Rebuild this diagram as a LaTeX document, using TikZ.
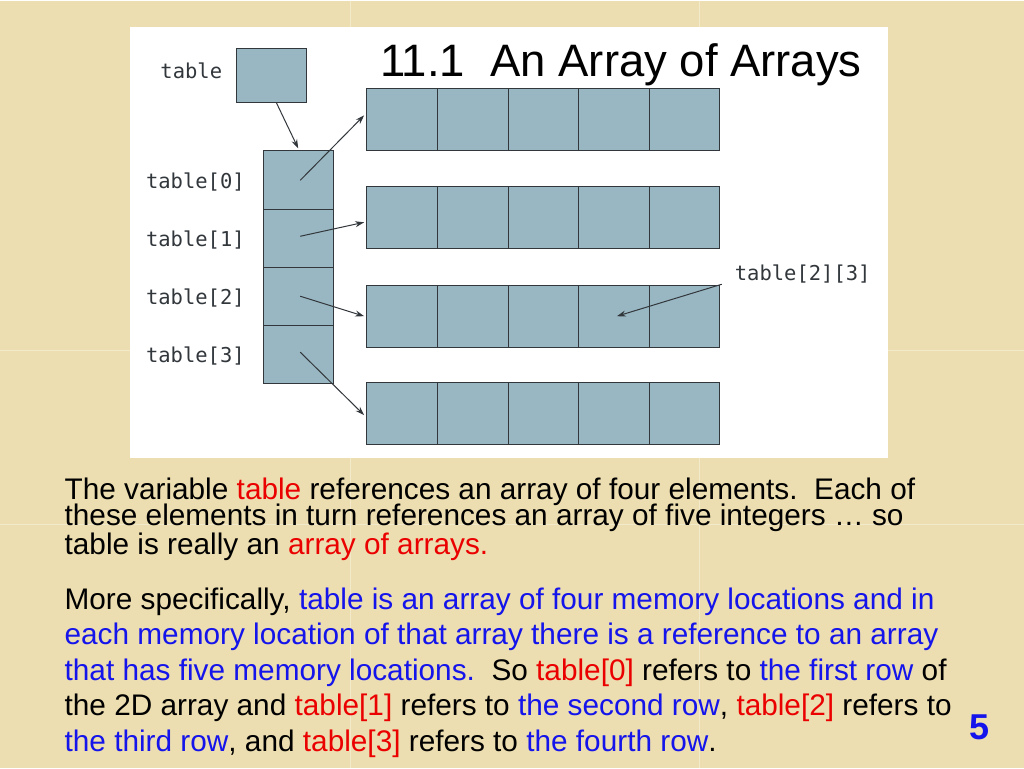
\documentclass[tikz,border=0pt]{standalone}
\usepackage{fontspec}
\setmainfont{Liberation Sans}
\setmonofont{DejaVu Sans Mono}
\usetikzlibrary{arrows.meta}
\definecolor{bg}{RGB}{236,222,176}
\definecolor{cell}{RGB}{153,183,194}
\definecolor{ln}{RGB}{50,55,60}
\definecolor{rd}{RGB}{235,0,0}
\definecolor{bl}{RGB}{20,20,235}
\tikzset{
 cellbox/.style={draw=ln,fill=cell,line width=1pt},
 lbl/.style={font=\ttfamily\fontsize{20.5}{20.5}\selectfont,text=ln},
 ptr/.style={draw=ln,line width=1pt,-{Stealth[length=9pt,width=6pt]}},
 txt/.style={anchor=base west,inner sep=0,font=\fontsize{29.8}{29.8}\selectfont}
}
\begin{document}
\begin{tikzpicture}[x=1pt,y=-1pt]
\fill[bg] (0,0) rectangle (1024,768);
\draw[white!35!bg,line width=1pt] (350,0)--(350,768) (700,0)--(700,768) (0,350)--(1024,350) (0,525)--(1024,525);
\fill[white] (130,27) rectangle (888,458);
\node[font=\fontsize{45.5}{45.5}\selectfont,anchor=base] (title) at (621,76) {11.1\ \ An Array of Arrays};
\node[cellbox,minimum width=70,minimum height=54,anchor=north west,inner sep=0] (t) at (236,48) {};
\node[lbl] (tl) at (191,70) {table};
\foreach \i/\ya/\yb in {0/150/209,1/209/267,2/267/325,3/325/383}{
  \draw[cellbox] (263,\ya) rectangle (333,\yb);
  \node[lbl,anchor=east] (l\i) at (248,{(\ya+\yb)/2+2}) {table[\i]};
}
\coordinate (col) at (298,148);
\foreach \r/\ya in {0/88,1/186,2/285,3/382}{
  \foreach \xa/\xb in {366/437,437/508,508/579,579/650,650/720}{
    \draw[cellbox] (\xa,\ya) rectangle (\xb,\ya+62);
  }
}
\coordinate (a0) at (364,115);
\coordinate (a1) at (364,222);
\coordinate (a2) at (364,316);
\coordinate (a3) at (364,415);
\coordinate (e23) at (617,316);
\draw[ptr] (276,102) -- (col);
\draw[ptr] (300,180) -- (a0);
\draw[ptr] (300,236) -- (a1);
\draw[ptr] (300,296) -- (a2);
\draw[ptr] (300,352) -- (a3);
\node[lbl] (l23) at (803,274) {table[2][3]};
\draw[ptr] (722,284) -- (e23);
\node[txt] (p1) at (64,499) {The variable \textcolor{rd}{table} references an array of four elements.\ \ Each of};
\node[txt] (p2) at (64,526) {these elements in turn references an array of five integers … so};
\node[txt] (p3) at (64,555) {table is really an \textcolor{rd}{array of arrays.}};
\node[txt] (q1) at (64,610) {More specifically, \textcolor{bl}{table is an array of four memory locations and in}};
\node[txt] (q2) at (64,645) {\textcolor{bl}{each memory location of that array there is a reference to an array}};
\node[txt] (q3) at (64,681) {\textcolor{bl}{that has five memory locations.}\ \ So \textcolor{rd}{table[0]} refers to \textcolor{bl}{the first row} of};
\node[txt] (q4) at (64,716) {the 2D array and \textcolor{rd}{table[1]} refers to \textcolor{bl}{the second row}, \textcolor{rd}{table[2]} refers to};
\node[txt] (q5) at (64,752) {\textcolor{bl}{the third row}, and \textcolor{rd}{table[3]} refers to \textcolor{bl}{the fourth row}.};
\node[font=\bfseries\fontsize{36}{36}\selectfont,text=bl] (pg) at (980,728) {5};
\end{tikzpicture}
\end{document}
